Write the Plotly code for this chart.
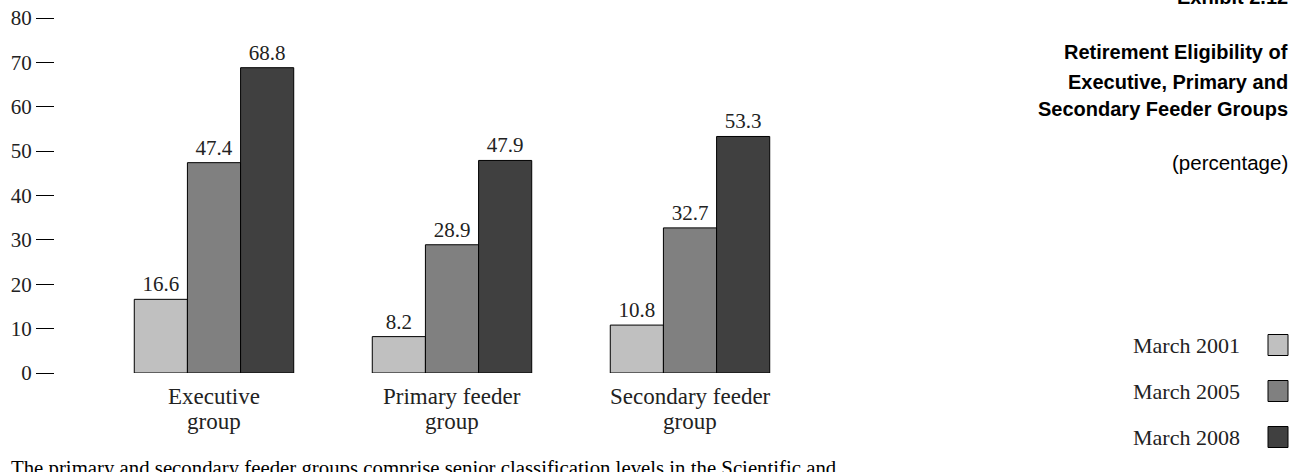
import plotly.graph_objects as go

categories = ["Executive group", "Primary feeder group", "Secondary feeder group"]
category_line1 = ["Executive", "Primary feeder", "Secondary feeder"]
category_line2 = ["group", "group", "group"]
series_names = ["March 2001", "March 2005", "March 2008"]
values_2001 = [16.6, 8.2, 10.8]
values_2005 = [47.4, 28.9, 32.7]
values_2008 = [68.8, 47.9, 53.3]
series_values = [values_2001, values_2005, values_2008]
colors = ["#c0c0c0", "#808080", "#404040"]
y_ticks = [0, 10, 20, 30, 40, 50, 60, 70, 80]
title_lines = ["Retirement Eligibility of", "Executive, Primary and", "Secondary Feeder Groups"]

W, H = 1302, 472
L, T, R, B = 55, 18, 830, 373  # plot area pixel box

def px(x):
    return (x - L) / (R - L)

def py(y):
    return (B - y) / (B - T)

serif = "Liberation Serif, Times New Roman, serif"
sans = "Liberation Sans, Arial, sans-serif"

fig = go.Figure()
for name, vals, col in zip(series_names, series_values, colors):
    fig.add_trace(go.Bar(
        x=categories, y=vals, name=name,
        marker=dict(color=col, line=dict(color="#000000", width=1)),
        text=[f"{v:.1f}" for v in vals], textposition="outside",
        textfont=dict(family=serif, size=21, color="#222"),
        cliponaxis=False, showlegend=False, hoverinfo="skip",
    ))

cat_w = 238.0
c0 = 214.0
x0 = (L - c0) / cat_w
x1 = (R - c0) / cat_w

fig.update_layout(
    width=W, height=H,
    margin=dict(l=L, r=W - R, t=T, b=H - B, pad=0, autoexpand=False),
    paper_bgcolor="white", plot_bgcolor="white",
    barmode="group", bargap=0.33, bargroupgap=0,
    xaxis=dict(range=[x0, x1], showline=False, showgrid=False, zeroline=False,
               ticks="", showticklabels=False, automargin=False),
    yaxis=dict(range=[0, 80], tickvals=y_ticks, showline=False, showgrid=False,
               zeroline=False, ticks="outside", ticklen=18, tickwidth=1, automargin=False,
               tickcolor="#000", tickfont=dict(family=serif, size=21, color="#222")),
)

annotations = []
# Category labels (two lines each)
for cat, l1, l2 in zip(categories, category_line1, category_line2):
    annotations.append(dict(text=l1, xref="x", yref="paper", x=cat, y=py(396.5),
                            xanchor="center", yanchor="middle", showarrow=False,
                            font=dict(family=serif, size=23, color="#222")))
    annotations.append(dict(text=l2, xref="x", yref="paper", x=cat, y=py(421.5),
                            xanchor="center", yanchor="middle", showarrow=False,
                            font=dict(family=serif, size=23, color="#222")))

# Title block (right side)
annotations.append(dict(text="<b>Exhibit 2.12</b>", xref="paper", yref="paper",
                        x=px(1290), y=py(-3), xanchor="right", yanchor="middle",
                        showarrow=False, font=dict(family=sans, size=20, color="#000")))
for line, ly in zip(title_lines, [52.5, 82, 109]):
    annotations.append(dict(text=f"<b>{line}</b>", xref="paper", yref="paper",
                            x=px(1290), y=py(ly), xanchor="right", yanchor="middle",
                            showarrow=False, font=dict(family=sans, size=20, color="#000")))
annotations.append(dict(text="(percentage)", xref="paper", yref="paper", x=px(1290), y=py(162.5),
                        xanchor="right", yanchor="middle", showarrow=False,
                        font=dict(family=sans, size=20.5, color="#000")))
# Footnote
annotations.append(dict(text="The primary and secondary feeder groups comprise senior classification levels in the Scientific and",
                        xref="paper", yref="paper", x=px(9), y=py(468), xanchor="left",
                        yanchor="middle", showarrow=False,
                        font=dict(family=serif, size=20.8, color="#000")))

shapes = []
legend_y = [345, 391, 437]
for name, col, ly in zip(series_names, colors, legend_y):
    annotations.append(dict(text=name, xref="paper", yref="paper", x=px(1242), y=py(ly),
                            xanchor="right", yanchor="middle", showarrow=False,
                            font=dict(family=serif, size=22, color="#222")))
    shapes.append(dict(type="rect", xref="paper", yref="paper",
                       x0=px(1268), x1=px(1288), y0=py(ly + 10.5), y1=py(ly - 10.5),
                       fillcolor=col, line=dict(color="#000", width=1)))

fig.update_layout(annotations=annotations, shapes=shapes)
fig.write_html("out.html", config={"displayModeBar": False},
               post_script="document.body.style.margin='0';")
